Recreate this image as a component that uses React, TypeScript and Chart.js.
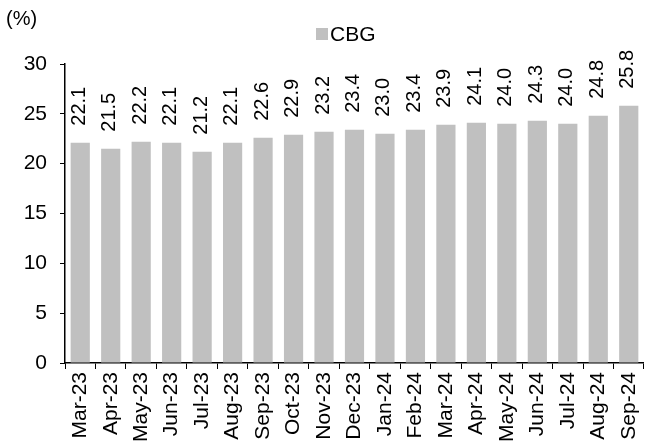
import React, { useEffect, useRef } from "react";
import { Chart, registerables } from "chart.js";

Chart.register(...registerables);

const categories = [
  "Mar-23", "Apr-23", "May-23", "Jun-23", "Jul-23", "Aug-23", "Sep-23", "Oct-23",
  "Nov-23", "Dec-23", "Jan-24", "Feb-24", "Mar-24", "Apr-24", "May-24", "Jun-24",
  "Jul-24", "Aug-24", "Sep-24",
];
const cbgValues = [
  22.1, 21.5, 22.2, 22.1, 21.2, 22.1, 22.6, 22.9, 23.2, 23.4, 23.0, 23.4, 23.9,
  24.1, 24.0, 24.3, 24.0, 24.8, 25.8,
];
const seriesName = "CBG";
const unitLabel = "(%)";
const yTicks = [0, 5, 10, 15, 20, 25, 30];

const FONT = "'Liberation Sans', Arial, sans-serif";
const BAR_COLOR = "#C0C0C0";

const overlayPlugin = {
  id: "overlay",
  afterDatasetsDraw(chart: any) {
    const ctx = chart.ctx;
    const meta = chart.getDatasetMeta(0);
    ctx.save();
    ctx.fillStyle = "#000";
    ctx.font = `20px ${FONT}`;
    ctx.textAlign = "left";
    ctx.textBaseline = "middle";
    meta.data.forEach((bar: any, i: number) => {
      ctx.save();
      ctx.translate(bar.x - 1, bar.y - 17);
      ctx.rotate(-Math.PI / 2);
      ctx.fillText(cbgValues[i].toFixed(1), 0, 0);
      ctx.restore();
    });
    ctx.restore();
  },
  afterDraw(chart: any) {
    const ctx = chart.ctx;
    ctx.save();
    ctx.fillStyle = "#000";
    ctx.font = `20px ${FONT}`;
    ctx.textAlign = "left";
    ctx.textBaseline = "middle";
    ctx.fillText(unitLabel, 6, 19);
    ctx.fillStyle = BAR_COLOR;
    ctx.fillRect(316, 28, 12, 12);
    ctx.fillStyle = "#000";
    ctx.font = `21px ${FONT}`;
    ctx.fillText(seriesName, 330, 35);
    ctx.restore();
  },
};

export default function App() {
  const ref = useRef<HTMLCanvasElement | null>(null);
  useEffect(() => {
    if (!ref.current) return;
    const chart = new Chart(ref.current, {
      type: "bar",
      data: {
        labels: categories,
        datasets: [
          {
            label: seriesName,
            data: cbgValues,
            backgroundColor: BAR_COLOR,
            barPercentage: 0.63,
            categoryPercentage: 1,
          },
        ],
      },
      options: {
        animation: false,
        responsive: false,
        maintainAspectRatio: false,
        layout: { padding: { top: 64, right: 2, left: 0, bottom: 0 } },
        plugins: {
          legend: { display: false },
          tooltip: { enabled: false },
          title: { display: false },
        },
        scales: {
          x: {
            grid: {
              display: true,
              drawOnChartArea: false,
              offset: true,
              tickLength: 6,
              color: "#000",
            },
            border: { display: true, color: "#000", width: 1.5 },
            ticks: {
              autoSkip: false,
              maxRotation: 90,
              minRotation: 90,
              padding: 3,
              color: "#000",
              font: { family: FONT, size: 21 },
            },
            afterFit(scale: any) {
              scale.height = 85;
            },
          },
          y: {
            min: 0,
            max: 30,
            afterBuildTicks(scale: any) {
              scale.ticks = yTicks.map((v) => ({ value: v }));
            },
            grid: {
              display: true,
              drawOnChartArea: false,
              tickLength: 5,
              color: "#000",
            },
            border: { display: true, color: "#000", width: 1.5 },
            ticks: {
              padding: 13,
              color: "#000",
              font: { family: FONT, size: 21 },
            },
            afterFit(scale: any) {
              scale.width = 65;
            },
          },
        },
      },
      plugins: [overlayPlugin],
    });
    return () => chart.destroy();
  }, []);
  return (
    <div style={{ position: "fixed", left: 0, top: 0, width: 657, height: 448, background: "#fff" }}>
      <canvas ref={ref} width={657} height={448} style={{ display: "block" }} />
    </div>
  );
}
